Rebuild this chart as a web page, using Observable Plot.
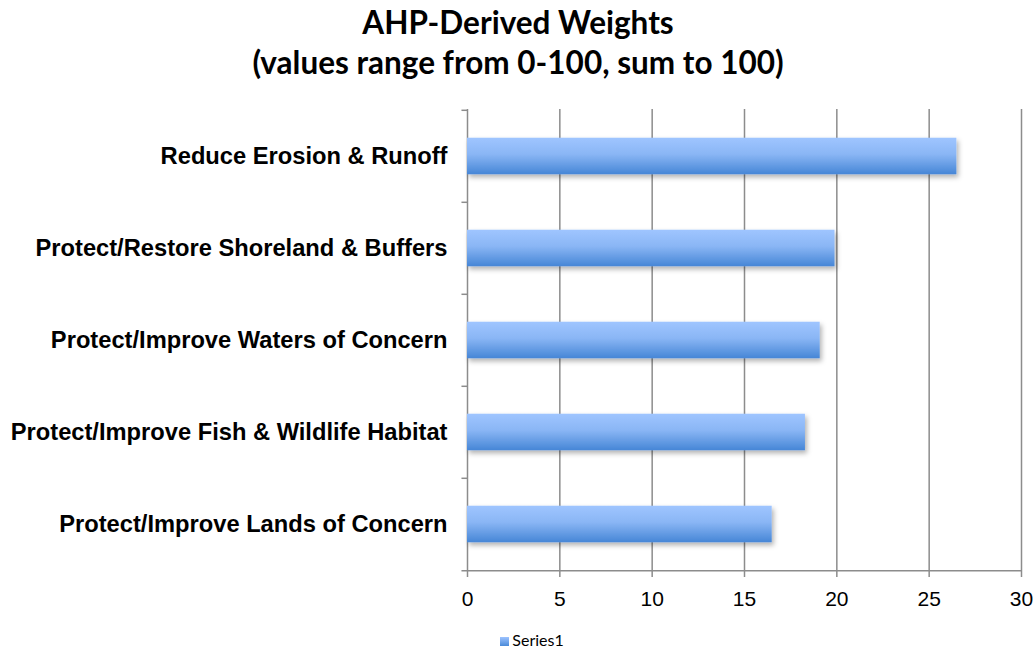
<!DOCTYPE html>
<html>
<head>
<meta charset="utf-8">
<script src="https://cdn.jsdelivr.net/npm/d3@7"></script>
<script src="https://cdn.jsdelivr.net/npm/@observablehq/plot@0.6"></script>
<style>
  html, body { margin: 0; padding: 0; background: #fff; }
  #wrap { width: 1036px; height: 649px; position: relative; overflow: hidden; }
  #title { font-family: Lato, "Open Sans", sans-serif; font-weight: bold; font-size: 31.5px; line-height: 40px;
           text-align: center; color: #000; padding-top: 2px; height: 82px; margin-left: 0px; }
  #legend { font-family: Lato, "Open Sans", sans-serif; font-size: 16px; color: #000;
            position: absolute; top: 630px; left: 14px; width: 1036px; text-align: center; }
  #legend .sw { display: inline-block; width: 9px; height: 9px; margin-right: 3px; vertical-align: 0px;
                background: linear-gradient(#9dc3ff, #4a8ad8); }
</style>
</head>
<body>
<div id="wrap">
  <div id="title">AHP-Derived Weights<br>(values range from 0-100, sum to 100)</div>
  <div id="chart"></div>
  <div id="legend"><span class="sw"></span>Series1</div>
</div>
<script>
const categories = [
  "Reduce Erosion & Runoff",
  "Protect/Restore Shoreland & Buffers",
  "Protect/Improve Waters of Concern",
  "Protect/Improve Fish & Wildlife Habitat",
  "Protect/Improve Lands of Concern"
];
const series1 = [26.5, 19.9, 19.1, 18.3, 16.5];
const xTicks = [0, 5, 10, 15, 20, 25, 30];

const data = categories.map((c, i) => ({category: c, value: series1[i]}));

const marginTop = 25, marginBottom = 53, height = 540;
const bw = (height - marginTop - marginBottom) / categories.length;

const chart = Plot.plot({
  width: 1036,
  height,
  marginLeft: 467,
  marginRight: 15,
  marginTop,
  marginBottom,
  style: {fontFamily: "'Liberation Sans', Arial, sans-serif", color: "#000", background: "#fff"},
  x: {domain: [0, 30], ticks: xTicks, label: null},
  y: {domain: categories, padding: 0, label: null},
  marks: [
    Plot.ruleX(xTicks, {stroke: "#8c8c8c", strokeWidth: 1.5}),
    Plot.barX(data, {y: "category", x: "value", fill: "url(#barGrad)", insetTop: bw * 0.3, insetBottom: bw * 0.3, className: "bars"}),
    Plot.ruleY(categories, {y: d => d, x1: -0.3, x2: 0, dy: -bw / 2, stroke: "#8c8c8c", strokeWidth: 1.5}),
    Plot.ruleY([categories[categories.length - 1]], {y: d => d, x1: -0.3, x2: 30, dy: bw / 2, stroke: "#8c8c8c", strokeWidth: 1.5}),
    Plot.axisX({ticks: xTicks, tickSize: 6, tickPadding: 14, fontSize: 21, stroke: "#8c8c8c", strokeWidth: 1.5, label: null}),
    Plot.axisY({tickSize: 0, tickPadding: 20, fontSize: 23.7, fontWeight: "bold", label: null})
  ]
});

const svg = d3.select(chart);
const defs = svg.insert("defs", ":first-child");
const g = defs.append("linearGradient").attr("id", "barGrad").attr("x1", 0).attr("y1", 0).attr("x2", 0).attr("y2", 1);
g.append("stop").attr("offset", "0%").attr("stop-color", "#9fc5ff");
g.append("stop").attr("offset", "45%").attr("stop-color", "#8ab6f5");
g.append("stop").attr("offset", "100%").attr("stop-color", "#4686d6");
const f = defs.append("filter").attr("id", "shadow").attr("x", "-5%").attr("y", "-30%").attr("width", "115%").attr("height", "180%");
f.append("feDropShadow").attr("dx", 2).attr("dy", 3).attr("stdDeviation", 2.5).attr("flood-color", "#000").attr("flood-opacity", 0.3);
svg.selectAll("g.bars, g[aria-label='bar']").attr("filter", "url(#shadow)");

document.getElementById("chart").appendChild(chart);
</script>
</body>
</html>
